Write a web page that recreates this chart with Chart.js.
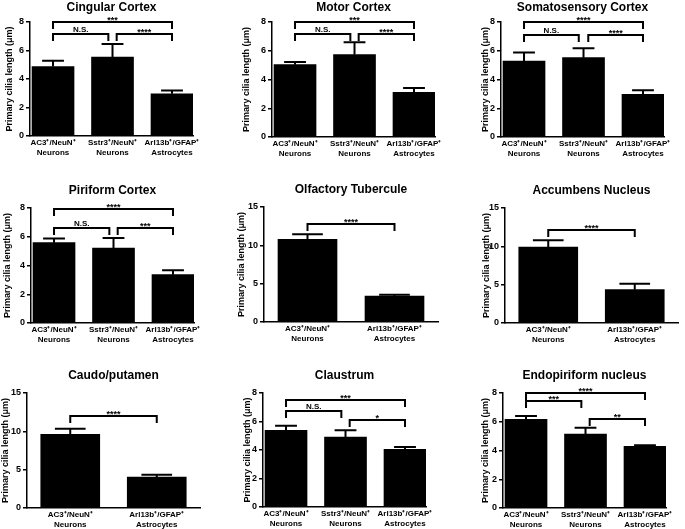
<!DOCTYPE html>
<html>
<head>
<meta charset="utf-8">
<script src="https://cdn.jsdelivr.net/npm/chart.js@4/dist/chart.umd.min.js"></script>
<style>
  body { margin: 0; background: #fff; width: 685px; height: 529px; overflow: hidden; position: relative; }
  canvas { position: absolute; }
</style>
</head>
<body>
<script>
// Categories
const labels3 = [["AC3⁺/NeuN⁺", "Neurons"], ["Sstr3⁺/NeuN⁺", "Neurons"], ["Arl13b⁺/GFAP⁺", "Astrocytes"]];
const labels2 = [["AC3⁺/NeuN⁺", "Neurons"], ["Arl13b⁺/GFAP⁺", "Astrocytes"]];

const titles = ["Cingular Cortex", "Motor Cortex", "Somatosensory Cortex",
                "Piriform Cortex", "Olfactory Tubercule", "Accumbens Nucleus",
                "Caudo/putamen", "Claustrum", "Endopiriform nucleus"];

// Mean cilia length (µm) and SEM
const cingularMean = [4.88, 5.54, 2.96];   const cingularErr = [0.40, 0.92, 0.23];
const motorMean = [5.03, 5.73, 3.11];      const motorErr = [0.19, 0.86, 0.30];
const somatoMean = [5.29, 5.52, 2.96];     const somatoErr = [0.58, 0.66, 0.30];
const piriformMean = [5.59, 5.22, 3.36];   const piriformErr = [0.28, 0.70, 0.31];
const olfactoryMean = [10.78, 3.39];       const olfactoryErr = [0.65, 0.17];
const accumbensMean = [9.91, 4.35];        const accumbensErr = [0.87, 0.78];
const caudoMean = [9.61, 4.04];            const caudoErr = [0.74, 0.31];
const claustrumMean = [5.38, 4.91, 4.05];  const claustrumErr = [0.33, 0.47, 0.16];
const endoMean = [6.17, 5.15, 4.29];       const endoErr = [0.23, 0.44, 0.07];

// significance brackets: [from category, to category, level (µm), label]
const cingularSig = [[0, 2, 8.0, "***"], [0, 0.93, 7.15, "N.S."], [1.07, 2, 7.15, "****"]];
const motorSig = [[0, 2, 8.0, "***"], [0, 0.93, 7.15, "N.S."], [1.07, 2, 7.15, "****"]];
const somatoSig = [[0, 2, 8.0, "****"], [0, 0.92, 7.1, "N.S."], [1.08, 2, 7.1, "****"]];
const piriformSig = [[0, 2, 7.9, "****"], [0, 0.93, 6.63, "N.S."], [1.07, 2, 6.63, "***"]];
const olfactorySig = [[0, 1, 12.8, "****"]];
const accumbensSig = [[0, 1, 12.1, "****"]];
const caudoSig = [[0, 1, 12.0, "****"]];
const claustrumSig = [[0, 2, 7.53, "***"], [0, 0.93, 6.71, "N.S."], [1.07, 2, 6.08, "*"]];
const endoSig = [[0, 2, 8.0, "****"], [0, 0.93, 7.42, "***"], [1.07, 2, 6.2, "**"]];

const yMax8 = 8, yStep8 = 2, yMax15 = 15, yStep15 = 5;
// x limits (category units): Prism puts the first of three bars right against the axis
const xRange3 = [-0.387, 2.353];
const xRange2 = [-0.5, 1.5];

const FONT = "'Liberation Sans', Arial, sans-serif";

// panel placement: canvas box + plot area (page px) + y-title centre
const boxes = [
  { ox: 0,   oy: 0,   cw: 230, ch: 175, L: 30,  T: 22,  R: 193, B: 136, tx: 9,   bw: 42 },
  { ox: 230, oy: 0,   cw: 230, ch: 175, L: 272, T: 22,  R: 435, B: 137, tx: 246, bw: 42 },
  { ox: 460, oy: 0,   cw: 225, ch: 175, L: 501, T: 22,  R: 664, B: 137, tx: 485, bw: 42 },
  { ox: 0,   oy: 175, cw: 230, ch: 175, L: 31,  T: 208, R: 194, B: 323, tx: 7,   bw: 42 },
  { ox: 230, oy: 175, cw: 230, ch: 175, L: 264, T: 207, R: 438, B: 322, tx: 241, bw: 59 },
  { ox: 460, oy: 175, cw: 225, ch: 175, L: 505, T: 208, R: 678, B: 323, tx: 486, bw: 59 },
  { ox: 0,   oy: 350, cw: 230, ch: 179, L: 27,  T: 393, R: 200, B: 508, tx: 5,   bw: 59 },
  { ox: 230, oy: 350, cw: 230, ch: 179, L: 263, T: 393, R: 426, B: 507, tx: 247, bw: 42 },
  { ox: 460, oy: 350, cw: 225, ch: 179, L: 503, T: 393, R: 666, B: 508, tx: 485, bw: 42 }
];

const panels = [
  [labels3, cingularMean, cingularErr, cingularSig, yMax8, yStep8],
  [labels3, motorMean, motorErr, motorSig, yMax8, yStep8],
  [labels3, somatoMean, somatoErr, somatoSig, yMax8, yStep8],
  [labels3, piriformMean, piriformErr, piriformSig, yMax8, yStep8],
  [labels2, olfactoryMean, olfactoryErr, olfactorySig, yMax15, yStep15],
  [labels2, accumbensMean, accumbensErr, accumbensSig, yMax15, yStep15],
  [labels2, caudoMean, caudoErr, caudoSig, yMax15, yStep15],
  [labels3, claustrumMean, claustrumErr, claustrumSig, yMax8, yStep8],
  [labels3, endoMean, endoErr, endoSig, yMax8, yStep8]
];

// error bars (upper only, with cap)
const errorBars = {
  id: "errorBars",
  afterDatasetsDraw(chart, args, opts) {
    const ctx = chart.ctx, y = chart.scales.y;
    const meta = chart.getDatasetMeta(0);
    ctx.save();
    ctx.strokeStyle = "#000";
    ctx.lineWidth = 2;
    meta.data.forEach((bar, i) => {
      const v = chart.data.datasets[0].data[i].y;
      const top = y.getPixelForValue(v + opts.err[i]);
      const cap = bar.width * 0.26;
      ctx.beginPath();
      ctx.moveTo(bar.x, bar.y);
      ctx.lineTo(bar.x, top);
      ctx.moveTo(bar.x - cap, top);
      ctx.lineTo(bar.x + cap, top);
      ctx.stroke();
    });
    ctx.restore();
  }
};

// significance brackets
const brackets = {
  id: "brackets",
  afterDraw(chart, args, opts) {
    const ctx = chart.ctx, x = chart.scales.x, y = chart.scales.y;
    ctx.save();
    ctx.strokeStyle = "#000";
    ctx.fillStyle = "#000";
    ctx.lineWidth = 2;
    ctx.textAlign = "center";
    ctx.textBaseline = "alphabetic";
    opts.list.forEach(([a, b, lvl, txt]) => {
      const x1 = x.getPixelForValue(a), x2 = x.getPixelForValue(b);
      const yy = Math.round(y.getPixelForValue(lvl));
      ctx.beginPath();
      ctx.moveTo(x1, yy + 7);
      ctx.lineTo(x1, yy);
      ctx.lineTo(x2, yy);
      ctx.lineTo(x2, yy + 7);
      ctx.stroke();
      const star = txt.indexOf("*") >= 0;
      ctx.font = (star ? "bold 9px " : "bold 8px ") + FONT;
      ctx.fillText(txt, (x1 + x2) / 2, star ? yy + 0.5 : yy - 2);
    });
    ctx.restore();
  }
};

panels.forEach(([labels, mean, err, sig, ymax, step], k) => {
  const b = boxes[k];
  const cv = document.createElement("canvas");
  cv.width = b.cw; cv.height = b.ch;
  cv.style.left = b.ox + "px"; cv.style.top = b.oy + "px";
  cv.style.width = b.cw + "px"; cv.style.height = b.ch + "px";
  document.body.appendChild(cv);

  const padLeft = Math.max(0, b.tx - b.ox - 5);
  const yw = b.L - b.ox - padLeft;
  const xh = b.oy + b.ch - b.B;
  const tpTop = Math.max(0, b.T - b.oy - 17 - 7.2);
  const tpBottom = b.T - b.oy - tpTop - 14.4;
  const xr = labels.length === 3 ? xRange3 : xRange2;

  new Chart(cv, {
    type: "bar",
    data: {
      datasets: [{
        data: mean.map((v, i) => ({ x: i, y: v })),
        backgroundColor: "#000",
        borderWidth: 0,
        barThickness: b.bw
      }]
    },
    options: {
      responsive: false,
      animation: false,
      events: [],
      layout: { padding: { left: padLeft, right: b.ox + b.cw - b.R, top: 0, bottom: 0 } },
      plugins: {
        legend: { display: false },
        tooltip: { enabled: false },
        title: {
          display: true,
          fullSize: false,
          text: titles[k],
          color: "#000",
          font: { family: FONT, size: 12, weight: "bold", lineHeight: 1.2 },
          padding: { top: tpTop, bottom: tpBottom }
        },
        errorBars: { err: err },
        brackets: { list: sig }
      },
      scales: {
        x: {
          type: "linear",
          min: xr[0], max: xr[1],
          offset: false,
          grid: { display: false, drawTicks: false, offset: false },
          border: { color: "#000", width: 1.5 },
          afterBuildTicks(s) { s.ticks = labels.map((_, i) => ({ value: i })); },
          ticks: {
            callback: v => labels[Math.round(v)] || "",
            color: "#000",
            font: { family: FONT, size: 8, weight: "bold", lineHeight: 1.25 },
            maxRotation: 0, minRotation: 0, autoSkip: false, padding: 2
          },
          afterFit(s) { s.height = xh; }
        },
        y: {
          min: 0, max: ymax,
          ticks: { stepSize: step, color: "#000", font: { family: FONT, size: 9, weight: "bold" }, padding: 2 },
          grid: { drawOnChartArea: false, color: "#000", lineWidth: 1.5, tickLength: 4 },
          border: { color: "#000", width: 1.5 },
          title: {
            display: true,
            text: "Primary cilia length (μm)",
            color: "#000",
            font: { family: FONT, size: 9, weight: "bold" },
            padding: 0
          },
          afterFit(s) { s.width = yw; }
        }
      }
    },
    plugins: [errorBars, brackets]
  });
});
</script>
</body>
</html>
